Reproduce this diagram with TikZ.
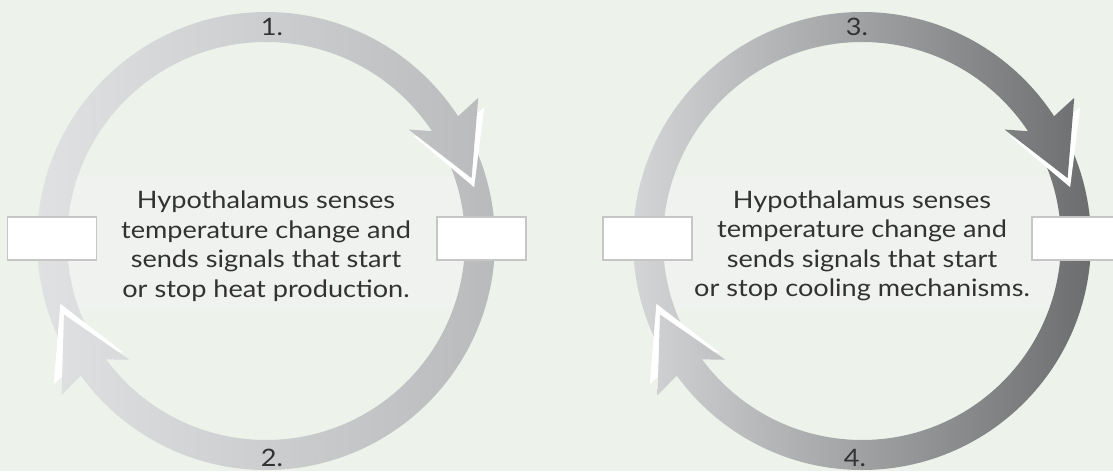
\documentclass[tikz,border=0pt]{standalone}
\usepackage{fontspec}
\setmainfont{Lato}[FakeStretch=1.13]
\definecolor{bg}{RGB}{237,242,235}
\definecolor{panel}{RGB}{240,242,239}
\definecolor{txt}{RGB}{50,50,50}
\definecolor{slotline}{RGB}{198,198,198}
\definecolor{lightL}{RGB}{224,225,227}
\definecolor{lightR}{RGB}{185,186,188}
\definecolor{darkL}{RGB}{212,213,215}
\definecolor{darkR}{RGB}{108,109,111}
% ring band (even-odd) and one arrow head, relative to the circle centre
\newcommand\ringshape{(0:229) arc[start angle=0,end angle=360,radius=229] (0:199) arc[start angle=0,end angle=360,radius=199]}
\newcommand\headpath[1]{({#1-0.5}:199) -- ({#1+4}:181) -- ({#1-17}:215) -- (#1:256) -- ({#1-1}:229) -- cycle}
% one feedback loop: ring, highlighted heads, pale panel behind the text
\newcommand\feedbackloop[3]{%
  \begin{scope}[shift={(#1,230)}]
    \begin{scope}
      \clip (0,0) circle[radius=199];
      \fill[panel] (-199,65) rectangle (199,-67);
    \end{scope}
    \begin{scope}[even odd rule]
      \clip \ringshape;
      \shade[left color=#2,right color=#3] (-229,-260) rectangle (229,260);
    \end{scope}
    \fill[white] \headpath{31.5};
    \fill[white] \headpath{214};
    \begin{scope}
      \clip \headpath{34} \headpath{217};
      \shade[left color=#2,right color=#3] (-229,-260) rectangle (229,260);
    \end{scope}
  \end{scope}}
\tikzset{
  maintext/.style={align=center,font=\fontsize{24}{29.5}\selectfont,text=txt,inner sep=0pt},
  num/.style={font=\fontsize{24}{24}\selectfont,text=txt,inner sep=0pt,anchor=base},
  slot/.style={draw=slotline,line width=1.2pt,fill=white,minimum width=89pt,minimum height=43pt,inner sep=0pt}
}
\begin{document}
\begin{tikzpicture}[x=1pt,y=1pt]
\useasboundingbox (0,0) rectangle (1113,471);
\clip (0,0) rectangle (1113,471);
\fill[bg] (0,0) rectangle (1113,471);

\feedbackloop{266}{lightL}{lightR}
\feedbackloop{862}{darkL}{darkR}

% step numbers on the rings
\node[num] (n1) at (272,435) {1.};
\node[num] (n2) at (272,5) {2.};
\node[num] (n3) at (857,435) {3.};
\node[num] (n4) at (855,5) {4.};

% empty answer boxes
\node[slot] (b1) at (52,232.5) {};
\node[slot] (b2) at (481.5,232.5) {};
\node[slot] (b3) at (647.5,232.5) {};
\node[slot] (b4) at (1076.5,232.5) {};

% centre texts
\node[maintext] (t1) at (266,225) {Hypothalamus senses\\temperature change and\\sends signals that start\\or stop heat production.};
\node[maintext] (t2) at (862,225) {Hypothalamus senses\\temperature change and\\sends signals that start\\or stop cooling mechanisms.};
\end{tikzpicture}
\end{document}
